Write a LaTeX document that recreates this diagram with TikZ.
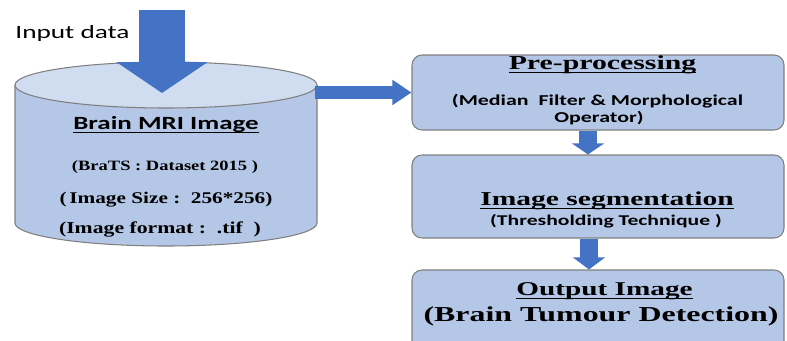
\documentclass[tikz,border=0pt]{standalone}
\usepackage{fontspec}
\usepackage{tikz}
\usetikzlibrary{arrows.meta,calc,positioning}
\setmainfont{Liberation Serif}
\newfontfamily\headfont[FakeStretch=1.5]{Liberation Serif}
\newfontfamily\notefont[FakeStretch=1.3]{Liberation Serif}
\newfontfamily\labelfont[FakeStretch=1.45]{Carlito}
\definecolor{arrowblue}{HTML}{4472C4}
\definecolor{boxfill}{HTML}{B4C7E7}
\definecolor{lidfill}{HTML}{D0DCEF}
\definecolor{edgegray}{HTML}{7F7F7F}
\newcommand{\fs}[1]{\fontsize{#1}{#1}\selectfont}
\newcommand{\uln}[1]{\setbox0\hbox{#1}\rlap{\rule[-2.2pt]{\wd0}{0.7pt}}\box0}

\begin{document}
\begin{tikzpicture}[scale=1.0,
  stage/.style={draw=edgegray, fill=boxfill, rounded corners=0.2cm,
    minimum width=7.44cm, line width=0.6pt, inner sep=0pt},
  fatarrow/.style n args={3}{draw=arrowblue, line width=#1,
    -{Triangle[width=#2,length=#3]}},
  lbl/.style={anchor=base, inner sep=0pt}]
  \useasboundingbox (0,0) rectangle (15.74,6.8);
  \clip (0,0) rectangle (15.74,6.8);
  % database
  \fill[boxfill] (0.30,5.10) -- (0.30,2.34)
    arc[start angle=180, end angle=360, x radius=3.02, y radius=0.46]
    -- (6.34,5.10) -- cycle;
  \draw[edgegray, line width=0.6pt] (0.30,5.10) -- (0.30,2.34)
    arc[start angle=180, end angle=360, x radius=3.02, y radius=0.46]
    -- (6.34,5.10);
  \filldraw[fill=lidfill, draw=edgegray, line width=0.6pt]
    (3.32,5.10) ellipse [x radius=3.02, y radius=0.46];
  \coordinate (feed) at (3.24,6.60);
  \coordinate (lid) at (3.24,4.94);
  \coordinate (rim) at (6.30,4.95);
  \node[lbl] (feedtxt) at (1.45,6.04) {\labelfont\fs{10.7}Input data};
  \node[lbl] (mri) at (3.32,4.22) {\labelfont\bfseries\fs{10.6}\uln{Brain MRI Image}};
  \node[lbl] (brats) at (3.30,3.39) {\notefont\bfseries\fs{8.1}(BraTS : Dataset 2015 )};
  \node[lbl] (size) at (3.32,2.74) {\notefont\bfseries\fs{9.3}(\,Image Size :~~256*256)};
  \node[lbl] (fmt) at (3.20,2.14) {\notefont\bfseries\fs{9.5}(Image format :\ \ .tif\ \ )};
  % stages
  \node[stage, minimum height=1.5cm] (pre) at (11.96,4.95) {};
  \node[stage, minimum height=1.66cm] (seg) at (11.96,2.87) {};
  \node[stage, minimum height=1.7cm] (out) at (11.96,0.55) {};
  \node[lbl] (pretxt) at (12.05,5.41) {\headfont\bfseries\fs{11.3}\uln{Pre-processing}};
  \node[lbl] (filt) at (11.95,4.70) {\labelfont\bfseries\fs{8.6}(Median~~Filter \& Morphological};
  \node[lbl] (oper) at (11.98,4.36) {\labelfont\bfseries\fs{8.6}Operator)};
  \node[lbl] (segtxt) at (12.14,2.70) {\headfont\bfseries\fs{11.2}\uln{Image segmentation}};
  \node[lbl] (thr) at (12.12,2.30) {\labelfont\bfseries\fs{8.5}(Thresholding Technique )};
  \node[lbl] (outtxt) at (12.09,0.90) {\headfont\bfseries\fs{11.1}\uln{Output Image}};
  \node[lbl] (btd) at (12.02,0.37) {\headfont\bfseries\fs{12.1}(Brain Tumour Detection)};
  % arrows
  \draw[fatarrow={0.92cm}{1.8cm}{0.62cm}] (feed) -- (lid);
  \draw[fatarrow={0.26cm}{0.48cm}{0.38cm}] (rim) -- (pre.west);
  \draw[fatarrow={0.37cm}{0.63cm}{0.22cm}] ([xshift=-0.2cm]pre.south) -- ([xshift=-0.2cm]seg.north);
  \draw[fatarrow={0.37cm}{0.63cm}{0.24cm}] ([xshift=-0.18cm]seg.south) -- ([xshift=-0.18cm]out.north);
\end{tikzpicture}
\end{document}
